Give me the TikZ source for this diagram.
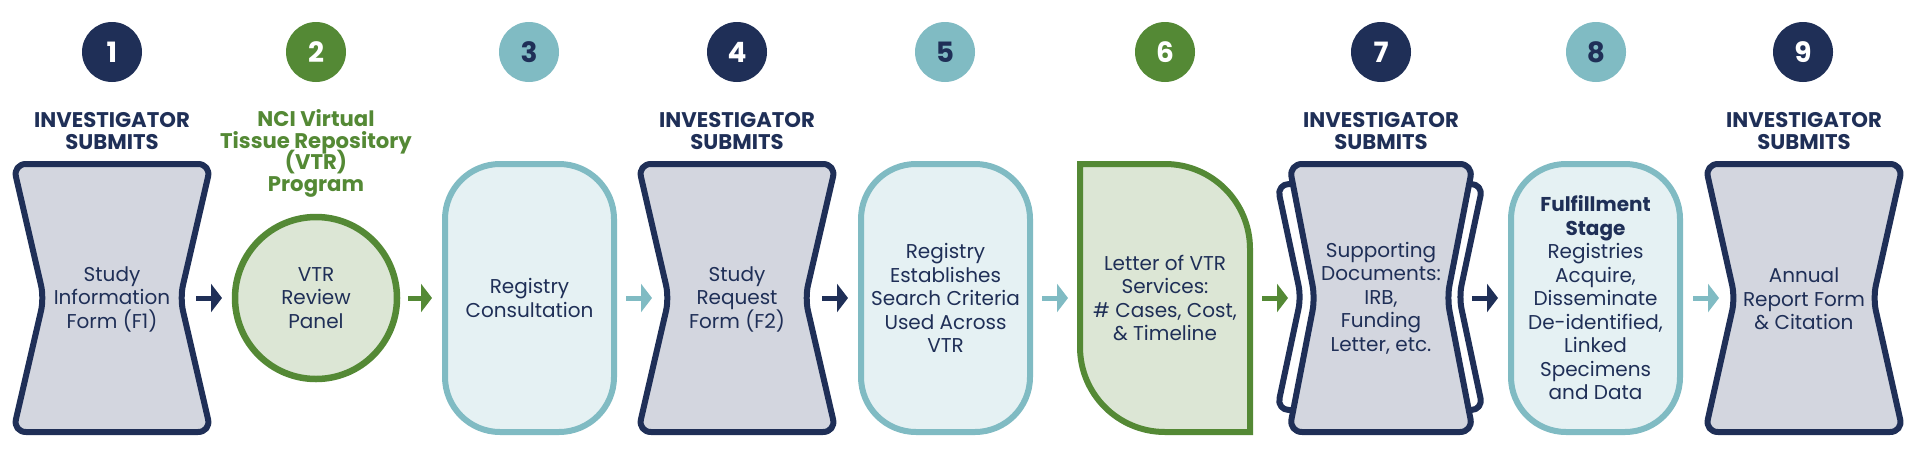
\documentclass[tikz,border=0pt]{standalone}
\usepackage{fontspec}
\setmainfont{Poppins}
\usetikzlibrary{arrows.meta,calc}
\definecolor{navy}{HTML}{1F2F57}
\definecolor{vgreen}{HTML}{548935}
\definecolor{vteal}{HTML}{80BBC3}
\definecolor{hgfill}{HTML}{D3D6DF}
\definecolor{tealfill}{HTML}{E5F1F3}
\definecolor{greenfill}{HTML}{DCE6D5}
\newcommand{\hourglassshape}[6]{%
  % #1 cx, #2 cy, #3 half width, #4 half height, #5 waist inset, #6 style
  \begin{scope}[shift={(#1,#2)}]
    \draw[#6] (0,-#4) -- (#3,-#4) -- ({#3-#5},0) -- (#3,#4) -- (-#3,#4) -- ({-#3+#5},0) -- (-#3,-#4) -- cycle;
  \end{scope}}
\begin{document}
\lineskiplimit=-10pt
\begin{tikzpicture}[x=0.5pt,y=-0.5pt,
  hg/.style={draw=navy, fill=hgfill, line width=3pt, rounded corners=6.5pt, line join=round},
  hgback/.style={draw=navy, fill=white, line width=3pt, rounded corners=6pt, line join=round},
  tbox/.style={draw=vteal, fill=tealfill, line width=3pt, rectangle, rounded corners=27.5pt, minimum width=84.5pt, minimum height=134pt},
  num/.style={circle, minimum size=30pt, inner sep=0pt, font=\bfseries\fontsize{14}{14}\selectfont},
  body/.style={align=center, text=navy, inner sep=0pt, font=\fontsize{10}{11.75}\selectfont},
  hdr/.style={align=center, inner sep=0pt, anchor=north, font=\bfseries\fontsize{10.6}{10.85}\selectfont},
  arr/.style={line width=2.5pt, -{Triangle[length=5.5pt,width=14pt]}}]
\useasboundingbox (0,0) rectangle (1920,450);

% step numbers
\node[num, fill=navy, text=white] (n1) at (112,52) {1};
\node[num, fill=vgreen, text=white] (n2) at (316,52) {2};
\node[num, fill=vteal, text=navy] (n3) at (529,52) {3};
\node[num, fill=navy, text=white] (n4) at (737,52) {4};
\node[num, fill=vteal, text=navy] (n5) at (945,52) {5};
\node[num, fill=vgreen, text=white] (n6) at (1165,52) {6};
\node[num, fill=navy, text=white] (n7) at (1381,52) {7};
\node[num, fill=vteal, text=navy] (n8) at (1596,52) {8};
\node[num, fill=navy, text=white] (n9) at (1803,52) {9};

% headers
\node[hdr, text=navy] (h1) at (112,112) {INVESTIGATOR\\SUBMITS};
\node[hdr, text=vgreen] (h2) at (316,109) {NCI Virtual\\Tissue Repository\\(VTR)\\Program};
\node[hdr, text=navy] (h4) at (737,112) {INVESTIGATOR\\SUBMITS};
\node[hdr, text=navy] (h7) at (1381,112) {INVESTIGATOR\\SUBMITS};
\node[hdr, text=navy] (h9) at (1804,112) {INVESTIGATOR\\SUBMITS};

% box 1
\hourglassshape{112}{298}{99}{134}{31}{hg}
\node[body] (b1) at (112,299) {Study\\Information\\Form (F1)};

% box 2
\node[circle, draw=vgreen, fill=greenfill, line width=3.25pt, minimum size=81pt, inner sep=0pt, align=center, text=navy, font=\fontsize{10}{11.75}\selectfont] (b2) at (316,298) {VTR\\Review\\Panel};

% box 3
\node[tbox, body] (b3) at (529.5,298) {Registry\\Consultation};

% box 4
\hourglassshape{737}{298}{99}{134}{31}{hg}
\node[body] (b4) at (737,299) {Study\\Request\\Form (F2)};

% box 5
\node[tbox, body] (b5) at (945.5,298) {Registry\\Establishes\\Search Criteria\\Used Across\\VTR};

% box 6
\draw[draw=vgreen, fill=greenfill, line width=3pt] (1080,164) -- (1165,164) .. controls (1212,164) and (1250,202) .. (1250,249) -- (1250,432) -- (1165,432) .. controls (1118,432) and (1080,394) .. (1080,347) -- cycle;
\node[body] (b6) at (1165,298) {Letter of VTR\\Services:\\\# Cases, Cost,\\\& Timeline};

% box 7
\hourglassshape{1380}{297}{103}{113}{24}{hgback}
\hourglassshape{1381}{298}{92}{134}{26}{hg}
\node[body] (b7) at (1381,298) {Supporting\\Documents:\\IRB,\\Funding\\Letter, etc.};

% box 8
\node[tbox, body] (b8) at (1595.5,298) {\textbf{Fulfillment}\\\textbf{Stage}\\Registries\\Acquire,\\Disseminate\\De-identified,\\Linked\\Specimens\\and Data};

% box 9
\hourglassshape{1804}{298}{99}{134}{30}{hg}
\node[body] (b9) at (1804,299) {Annual\\Report Form\\\& Citation};

% connectors
\coordinate (s1) at (196,298); \coordinate (e1) at (222,298);
\coordinate (s2) at (408,298); \coordinate (e2) at (432,298);
\coordinate (s3) at (626,298); \coordinate (e3) at (652,298);
\coordinate (s4) at (822,298); \coordinate (e4) at (848,298);
\coordinate (s5) at (1042,298); \coordinate (e5) at (1068,298);
\coordinate (s6) at (1262,298); \coordinate (e6) at (1288,298);
\coordinate (s7) at (1472,298); \coordinate (e7) at (1498,298);
\coordinate (s8) at (1693,298); \coordinate (e8) at (1719,298);
\draw[arr, navy] (s1) -- (e1);
\draw[arr, vgreen] (s2) -- (e2);
\draw[arr, vteal] (s3) -- (e3);
\draw[arr, navy] (s4) -- (e4);
\draw[arr, vteal] (s5) -- (e5);
\draw[arr, vgreen] (s6) -- (e6);
\draw[arr, navy] (s7) -- (e7);
\draw[arr, vteal] (s8) -- (e8);
\end{tikzpicture}
\end{document}
